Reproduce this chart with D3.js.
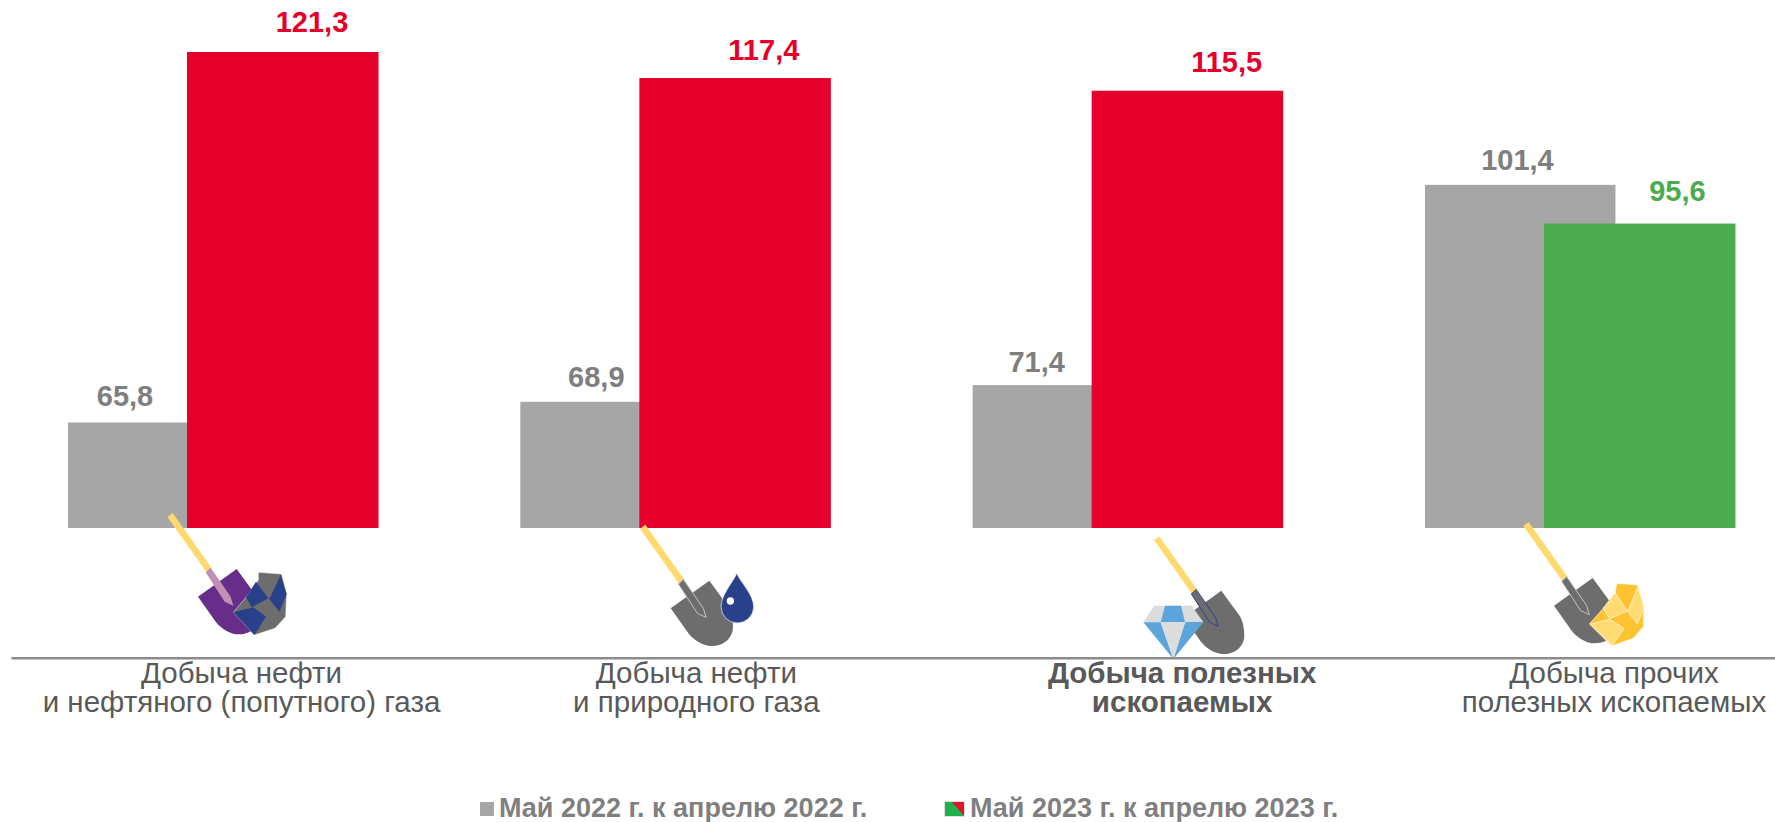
<!DOCTYPE html>
<html lang="ru">
<head>
<meta charset="utf-8">
<script src="https://cdn.jsdelivr.net/npm/d3@7/dist/d3.min.js"></script>
<style>
html,body{margin:0;padding:0;background:#fff;overflow:hidden}
svg{display:block;font-family:"Liberation Sans",Arial,sans-serif}
</style>
</head>
<body>
<svg id="chart" width="1775" height="822"></svg>
<script>
// ---------- data ----------
const categories = ["oilGasAssoc", "oilNatGas", "mining", "otherMining"];
const categoryLines = [
  ["Добыча нефти", "и нефтяного (попутного) газа"],
  ["Добыча нефти", "и природного газа"],
  ["Добыча полезных", "ископаемых"],
  ["Добыча прочих", "полезных ископаемых"]
];
const values2022 = [65.8, 68.9, 71.4, 101.4];
const values2023 = [121.3, 117.4, 115.5, 95.6];
const legendLabels = ["Май 2022 г. к апрелю 2022 г.", "Май 2023 г. к апрелю 2023 г."];

// ---------- layout ----------
const svg = d3.select("#chart");
const RED = "#e4002b", GREEN = "#4cab4e", GREY = "#a6a6a6";
const BASE_Y = 528, TOP_Y = 52, AXIS_Y = 657.7;
const BAR_W = 191.5, GREY_DX = -146.5, COLOR_DX = -27.5;
const num = d => String(d.toFixed(1)).replace(".", ",");
const x = d3.scalePoint().domain(categories).range([11, 1775]).padding(0.45);
const y = d3.scaleLinear().domain([50, 121.3]).range([BASE_Y, TOP_Y]);
const rows = categories.map((c, i) => ({c, i, a: values2022[i], b: values2023[i]}));

// bars
svg.append("g").selectAll("rect").data(rows).join("rect")
  .attr("x", d => x(d.c) + GREY_DX).attr("width", BAR_W - 1)
  .attr("y", d => y(d.a)).attr("height", d => y.range()[0] - y(d.a))
  .attr("fill", GREY);
svg.append("g").selectAll("rect").data(rows).join("rect")
  .attr("x", d => x(d.c) + COLOR_DX).attr("width", BAR_W)
  .attr("y", d => y(d.b)).attr("height", d => y.range()[0] - y(d.b))
  .attr("fill", d => d.b >= 100 ? RED : GREEN);

// value labels
const greyLabelDx = [-89.5, -70.5, -82.5, -54];
const colorLabelDx = [97.5, 97, 107.5, 106];
const greyLabelGap = [16.5, 14.5, 13.5, 14.5];
const colorLabelGap = [20, 18.5, 19, 22.7];
svg.append("g").selectAll("text").data(rows).join("text")
  .attr("x", d => x(d.c) + greyLabelDx[d.i]).attr("y", d => y(d.a) - greyLabelGap[d.i])
  .attr("text-anchor", "middle").attr("font-size", 29).attr("font-weight", 700)
  .attr("fill", "#7f7f7f").text(d => num(d.a));
svg.append("g").selectAll("text").data(rows).join("text")
  .attr("x", d => x(d.c) + colorLabelDx[d.i]).attr("y", d => y(d.b) - colorLabelGap[d.i])
  .attr("text-anchor", "middle").attr("font-size", 29).attr("font-weight", 700)
  .attr("fill", d => d.b >= 100 ? RED : GREEN).text(d => num(d.b));

// icons (local units: 3 per page pixel, origin at top of the handle)
const poly = (g, pts, fill, stroke, sw) => g.append("polygon")
  .attr("points", pts.map(p => p.join(",")).join(" ")).attr("fill", fill)
  .attr("stroke", stroke || "none").attr("stroke-width", sw || 0).attr("stroke-linejoin", "round");
function shovel(g, blade, neck, outline) {
  poly(g, [[-8,6],[8,-6],[125,159],[109,171]], "#ffd96e");
  g.append("path")
    .attr("d", "M84,245 L200,162 L257,240 C270,262 272,292 270,312 C262,345 232,358 207,358 C180,358 155,342 137,320 Z")
    .attr("fill", blade);
  poly(g, [[107,172],[122,158],[182,245],[190,272],[164,260]], neck, outline, outline ? 3 : 0);
}
function shift(pts, ox, oy) { return pts.map(p => [p[0] - ox, p[1] - oy]); }
function icon(tx, ty, s) {
  return svg.append("g").attr("transform", `translate(${tx},${ty}) scale(${s / 3})`);
}

// icon 1: purple shovel + navy/grey rock
const i1 = icon(170, 515, 1);
shovel(i1, "#672d8a", "#c28fb5");
poly(i1, shift([[355,217],[425,222],[440,282],[437,350],[405,385],[343,405],[280,337],[318,292],[355,240]],90,45), "#6d6d6d", "#fff", 1.5);
poly(i1, shift([[348,245],[385,295],[335,322],[318,292]],90,45), "#29418a");
poly(i1, shift([[422,225],[440,282],[418,335],[388,298]],90,45), "#29418a");
poly(i1, shift([[280,337],[340,322],[378,350],[343,405]],90,45), "#29418a");

// icon 2: grey shovel + drop
const i2 = icon(642.7, 526.7, 1);
shovel(i2, "#6d6d6d", "#6d6d6d", "#c4c4c4");
i2.append("path").attr("d", "M282,140 C295,168 333,205 333,240 A49,49 0 0 1 235,240 C235,205 270,168 282,140 Z").attr("fill", "#29418a").attr("stroke", "#fff").attr("stroke-width", 2);
i2.append("circle").attr("cx", 263).attr("cy", 223).attr("r", 11).attr("fill", "#fff");

// icon 3: shovel + diamond
const i3 = icon(1156.7, 538.3, 0.97);
shovel(i3, "#6d6d6d", "#6d6d6d", "#29418a");
const d3o = icon(1156.7, 538.3, 1);
const dia = pts => shift(pts, 110, 85);
poly(d3o, dia([[103,287],[215,287],[250,337],[70,337]]), "#dcdcdc");
poly(d3o, dia([[135,287],[183,287],[195,337],[122,337]]), "#5ba5dc");
poly(d3o, dia([[70,337],[122,337],[160,447]]), "#5ba5dc");
poly(d3o, dia([[250,337],[195,337],[160,447]]), "#5ba5dc");
poly(d3o, dia([[122,337],[195,337],[160,447]]), "#dcdcdc");

// icon 4: grey shovel + yellow rock
const i4 = icon(1526, 524, 1);
shovel(i4, "#6d6d6d", "#6d6d6d", "#c4c4c4");
poly(i4, shift([[350,220],[414,225],[432,292],[430,350],[400,385],[335,408],[268,342],[310,295],[345,250]],78,42), "#ffc231", "#fff", 2);
poly(i4, shift([[345,248],[382,303],[328,326],[310,295]],78,42), "#ffdc73", "#fff", 2);
poly(i4, shift([[414,228],[432,292],[412,342],[384,305]],78,42), "#ffdc73", "#fff", 2);
poly(i4, shift([[272,342],[328,328],[372,355],[337,406]],78,42), "#ffdc73", "#fff", 2);

// axis with two-line category labels
const axis = svg.append("g").attr("transform", `translate(0,${AXIS_Y})`)
  .call(d3.axisBottom(x).tickSize(0).tickSizeOuter(0).tickFormat(""));
axis.select(".domain").attr("stroke", "#8c8c8c").attr("stroke-width", 2.5);
const catDx = [27, 29.5, 63, 42.5];
const catText = svg.append("g").selectAll("text").data(rows).join("text")
  .attr("text-anchor", "middle").attr("font-size", 29.5).attr("fill", "#595959")
  .attr("font-weight", d => d.c === "mining" ? 700 : 400);
catText.selectAll("tspan").data(d => categoryLines[d.i].map(t => ({t, d}))).join("tspan")
  .attr("x", o => x(o.d.c) + catDx[o.d.i])
  .attr("y", (o, j) => 682.5 + j * 29)
  .text(o => o.t);

// legend
svg.append("rect").attr("x", 480).attr("y", 802).attr("width", 14).attr("height", 14).attr("fill", GREY);
svg.append("text").attr("x", 499).attr("y", 817).attr("font-size", 27).attr("font-weight", 700)
  .attr("fill", "#7f7f7f").text(legendLabels[0]);
const lg = svg.append("g").attr("transform", "translate(944,801)");
lg.append("rect").attr("width", 21).attr("height", 16).attr("fill", "#dedede");
lg.append("polygon").attr("points", "1,1 20,1 20,15").attr("fill", "#e8132b");
lg.append("polygon").attr("points", "1,1 8,1 20,15 1,15").attr("fill", "#1fb14c");
svg.append("text").attr("x", 970).attr("y", 817).attr("font-size", 27).attr("font-weight", 700)
  .attr("fill", "#7f7f7f").text(legendLabels[1]);
</script>
</body>
</html>
